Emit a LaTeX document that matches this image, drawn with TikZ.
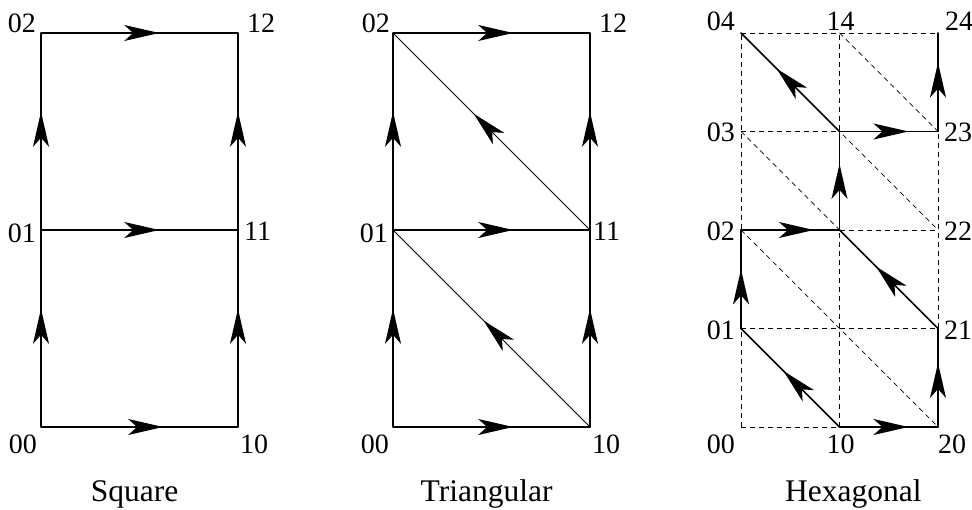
\documentclass[tikz,border=0pt]{standalone}
\usepackage{fontspec}
\setmainfont{Liberation Serif}
\usetikzlibrary{arrows.meta, positioning, decorations.markings}

\begin{document}
\begin{tikzpicture}[x=98.5pt, y=98.5pt,
    edge/.style={line width=1.3pt, line cap=round},
    thick edge/.style={line width=1.7pt, line cap=round},
    flow/.style={postaction={decorate}, decoration={markings,
        mark=at position #1 with {\arrow{Stealth[length=35pt, width=16pt, inset=9pt]}}}},
    flow/.default=0.62,
    grid/.style={line width=0.7pt, dash pattern=on 5pt off 4pt},
    vlabel/.style={font=\fontsize{28}{30}\selectfont, inner sep=0pt},
    caption/.style={font=\fontsize{31.5}{34}\selectfont, inner sep=0pt, anchor=base}]
  \useasboundingbox (-41pt,-83pt) rectangle (931pt,427pt);

  % ---------- Square ----------
  \foreach \i in {0,1} \foreach \j in {0,1,2}
    \coordinate (s\i\j) at (2*\i, 2*\j);
  \draw[edge, flow] (s00) -- (s10);
  \draw[edge, flow=0.6] (s01) -- (s11);
  \draw[edge, flow=0.6] (s02) -- (s12);
  \draw[edge, flow=0.6] (s00) -- (s01);
  \draw[edge, flow=0.6] (s01) -- (s02);
  \draw[edge, flow=0.6] (s10) -- (s11);
  \draw[edge, flow=0.6] (s11) -- (s12);
  \node[vlabel, anchor=north east] (sl00) at ([shift={(-4pt,-8pt)}]s00) {00};
  \node[vlabel, anchor=north west] (sl10) at ([shift={(2pt,-8pt)}]s10) {10};
  \node[vlabel, anchor=east] (sl01) at ([shift={(-5pt,-3pt)}]s01) {01};
  \node[vlabel, anchor=west] (sl11) at ([shift={(6pt,-1pt)}]s11) {11};
  \node[vlabel, anchor=south east] (sl02) at ([shift={(-5pt,0pt)}]s02) {02};
  \node[vlabel, anchor=south west] (sl12) at ([shift={(9pt,0pt)}]s12) {12};
  \node[caption] (sqname) at (0.95,-0.76) {Square};

  % ---------- Triangular ----------
  \begin{scope}[xshift=352pt]
    \foreach \i in {0,1} \foreach \j in {0,1,2}
      \coordinate (t\i\j) at (2*\i, 2*\j);
    \draw[edge, flow=0.61] (t00) -- (t10);
    \draw[edge, flow=0.61] (t01) -- (t11);
    \draw[edge, flow=0.61] (t02) -- (t12);
    \draw[edge, flow=0.6] (t00) -- (t01);
    \draw[edge, flow=0.6] (t01) -- (t02);
    \draw[edge, flow=0.6] (t10) -- (t11);
    \draw[edge, flow=0.6] (t11) -- (t12);
    \draw[line width=1pt, flow=0.54] (t10) -- (t01);
    \draw[line width=1pt, flow=0.59] (t11) -- (t02);
    \node[vlabel, anchor=north east] (tl00) at ([shift={(-4pt,-8pt)}]t00) {00};
    \node[vlabel, anchor=north west] (tl10) at ([shift={(2pt,-8pt)}]t10) {10};
    \node[vlabel, anchor=east] (tl01) at ([shift={(-5pt,-3pt)}]t01) {01};
    \node[vlabel, anchor=west] (tl11) at ([shift={(3pt,-1pt)}]t11) {11};
    \node[vlabel, anchor=south east] (tl02) at ([shift={(-3pt,0pt)}]t02) {02};
    \node[vlabel, anchor=south west] (tl12) at ([shift={(9pt,0pt)}]t12) {12};
    \node[caption] (triname) at (0.95,-0.76) {Triangular};
  \end{scope}

  % ---------- Hexagonal ----------
  \begin{scope}[xshift=700pt]
    \foreach \i in {0,1,2} \foreach \j in {0,...,4}
      \coordinate (h\i\j) at (\i, \j);
    % dashed lattice
    \foreach \j in {0,...,4}
      \draw[grid] (h0\j) -- (h2\j);
    \foreach \i in {0,1,2}
      \draw[grid] (h\i0) -- (h\i4);
    \draw[grid] (h01) -- (h10);
    \draw[grid] (h02) -- (h20);
    \draw[grid] (h03) -- (h21);
    \draw[grid] (h04) -- (h22);
    \draw[grid] (h14) -- (h23);
    % hexagonal path
    \draw[thick edge, flow=0.7] (h10) -- (h20);
    \draw[thick edge, flow=0.65] (h20) -- (h21);
    \draw[thick edge, flow=0.63] (h21) -- (h12);
    \draw[thick edge, flow=0.57] (h10) -- (h01);
    \draw[thick edge, flow=0.6] (h01) -- (h02);
    \draw[thick edge, flow=0.74] (h02) -- (h12);
    \draw[thick edge, flow=0.67] (h12) -- (h13);
    \draw[thick edge, flow=0.64] (h13) -- (h04);
    \draw[thick edge, flow=0.7] (h13) -- (h23);
    \draw[thick edge, flow=0.7] (h23) -- (h24);
    \node[vlabel, anchor=north east] (hl00) at ([shift={(-6pt,-8pt)}]h00) {00};
    \node[vlabel, anchor=north] (hl10) at ([shift={(1pt,-8pt)}]h10) {10};
    \node[vlabel, anchor=north west] (hl20) at ([shift={(0pt,-8pt)}]h20) {20};
    \node[vlabel, anchor=east] (hl01) at ([shift={(-6pt,-2pt)}]h01) {01};
    \node[vlabel, anchor=west] (hl21) at ([shift={(6pt,-2pt)}]h21) {21};
    \node[vlabel, anchor=east] (hl02) at ([shift={(-6pt,-1pt)}]h02) {02};
    \node[vlabel, anchor=west] (hl22) at ([shift={(6pt,-1pt)}]h22) {22};
    \node[vlabel, anchor=east] (hl03) at ([shift={(-6pt,-1pt)}]h03) {03};
    \node[vlabel, anchor=west] (hl23) at ([shift={(6pt,-1pt)}]h23) {23};
    \node[vlabel, anchor=south east] (hl04) at ([shift={(-6pt,2pt)}]h04) {04};
    \node[vlabel, anchor=south] (hl14) at ([shift={(1pt,2pt)}]h14) {14};
    \node[vlabel, anchor=south west] (hl24) at ([shift={(7pt,2pt)}]h24) {24};
    \node[caption] (hexname) at (1.14,-0.76) {Hexagonal};
  \end{scope}
\end{tikzpicture}
\end{document}
